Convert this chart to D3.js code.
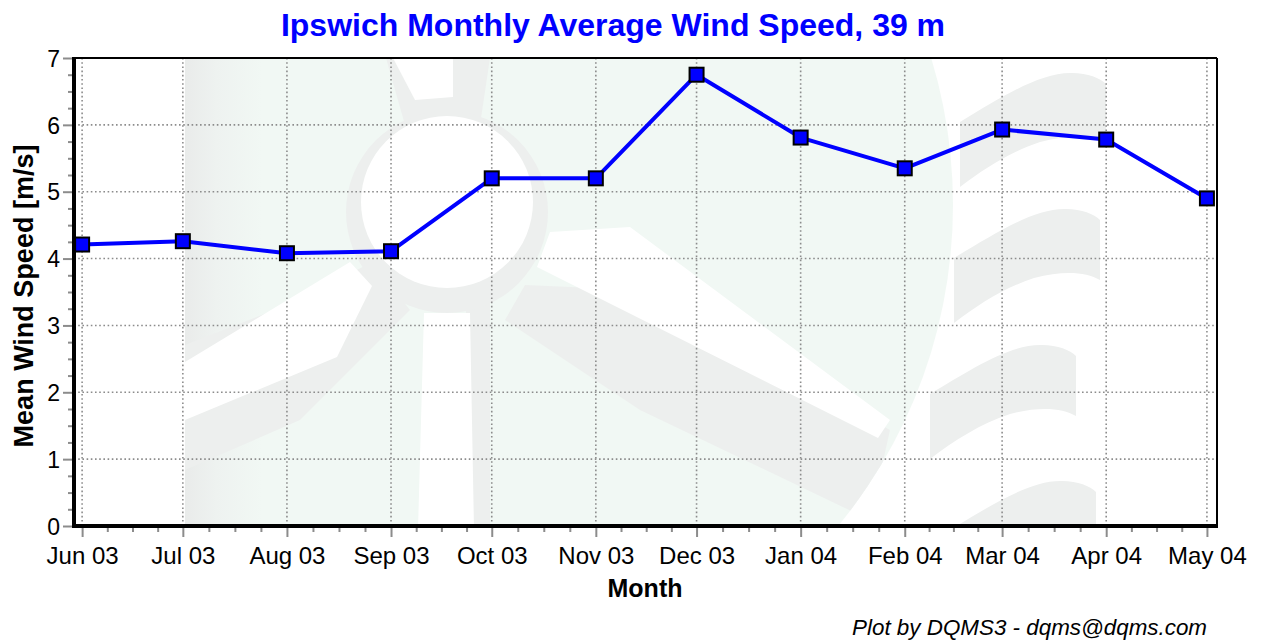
<!DOCTYPE html>
<html>
<head>
<meta charset="utf-8">
<script src="https://cdn.jsdelivr.net/npm/d3@7"></script>
<style>
  body { margin: 0; background: #fff; }
  svg { display: block; font-family: "Liberation Sans", Arial, sans-serif; }
</style>
</head>
<body>
<svg id="chart"></svg>
<script>
// monthly mean wind speed at 39 m, Jun 2003 .. May 2004
const months = ["2003-06", "2003-07", "2003-08", "2003-09", "2003-10", "2003-11",
                "2003-12", "2004-01", "2004-02", "2004-03", "2004-04", "2004-05"];
const windSpeed = [4.21, 4.26, 4.08, 4.11, 5.20, 5.20, 6.75, 5.81, 5.35, 5.93, 5.78, 4.90];
const yTicks = [0, 1, 2, 3, 4, 5, 6, 7];

const width = 1265, height = 640;
const margin = { top: 58, right: 48, bottom: 114, left: 74 };

const parseMonth = d3.timeParse("%Y-%m");
const data = months.map((m, i) => ({ date: parseMonth(m), value: windSpeed[i] }));

const svg = d3.select("#chart")
    .attr("width", width)
    .attr("height", height);

const x = d3.scaleTime()
    .domain([new Date(2003, 4, 29, 14), new Date(2004, 4, 4, 0)])
    .range([margin.left, width - margin.right]);

const y = d3.scaleLinear()
    .domain([0, 7])
    .range([height - margin.bottom, margin.top]);

const x0 = margin.left, x1 = width - margin.right;
const y0 = height - margin.bottom, y1 = margin.top;

// ---- faint logo watermark behind the plot ----
const defs = svg.append("defs");
defs.append("clipPath").attr("id", "plotclip")
    .append("rect").attr("x", x0).attr("y", y1).attr("width", x1 - x0).attr("height", y0 - y1);
defs.append("clipPath").attr("id", "logoclip")
    .append("circle").attr("cx", 447).attr("cy", 205).attr("r", 506);

const grad = defs.append("linearGradient").attr("id", "mint")
    .attr("gradientUnits", "userSpaceOnUse")
    .attr("x1", 185).attr("x2", 960).attr("y1", 0).attr("y2", 0);
grad.append("stop").attr("offset", "0").attr("stop-color", "#e9ebea");
grad.append("stop").attr("offset", "0.04").attr("stop-color", "#eef2f0");
grad.append("stop").attr("offset", "0.1").attr("stop-color", "#f1f8f4");
grad.append("stop").attr("offset", "1").attr("stop-color", "#f1f8f4");

const wm = svg.append("g").attr("clip-path", "url(#plotclip)");
const logo = wm.append("g").attr("clip-path", "url(#logoclip)");
const grey = "#edefee";

logo.append("rect")
    .attr("x", 185).attr("y", 0).attr("width", 780).attr("height", 640)
    .attr("fill", "url(#mint)");

// blade shadows
logo.append("path").attr("fill", grey)
    .attr("d", "M372,262 L300,300 L185,345 L185,470 L300,420 L410,310 Z");
logo.append("path").attr("fill", grey)
    .attr("d", "M525,285 L640,290 L890,430 L870,520 L640,410 L505,320 Z");
logo.append("path").attr("fill", grey)
    .attr("d", "M386,58 L490,58 L480,125 L405,125 Z");
logo.append("rect").attr("fill", grey)
    .attr("x", 466).attr("y", 300).attr("width", 24).attr("height", 230);

// hub
logo.append("circle").attr("cx", 447).attr("cy", 212).attr("r", 101).attr("fill", grey);
logo.append("circle").attr("cx", 447).attr("cy", 202).attr("r", 86).attr("fill", "#fff");

// white blades and tower
wm.append("path").attr("fill", "#fff")
    .attr("d", "M393,58 L453,58 L453,97 L415,100 Z");
wm.append("path").attr("fill", "#fff")
    .attr("d", "M350,262 L372,286 L337,357 L185,420 L185,362 Z");
wm.append("path").attr("fill", "#fff")
    .attr("d", "M537,267 L550,232 L630,227 L890,420 L878,438 Z");
wm.append("path").attr("fill", "#fff")
    .attr("d", "M424,313 L470,313 L474,530 L418,530 Z");

// wind swooshes on the right
[{ dx: 0, dy: 0 }, { dx: -6, dy: 136 }, { dx: -30, dy: 272 }, { dx: -10, dy: 408 }].forEach(s => {
    wm.append("path").attr("fill", grey)
        .attr("transform", `translate(${s.dx},${s.dy})`)
        .attr("d", "M960,122 C1000,98 1040,72 1072,73 C1088,73 1100,78 1106,84 L1106,144 " +
                   "C1092,136 1070,134 1040,142 C1010,152 985,168 960,187 Z");
});

// ---- grid ----
const gridStyle = g => g.attr("stroke", "#8c8c8c").attr("stroke-width", 1.6)
    .attr("stroke-dasharray", "1.6,2.6");

svg.append("g").call(gridStyle)
    .selectAll("line").data(yTicks.filter(t => t > 0 && t < 7)).join("line")
    .attr("x1", x0).attr("x2", x1)
    .attr("y1", d => y(d)).attr("y2", d => y(d));

svg.append("g").call(gridStyle)
    .selectAll("line").data(data).join("line")
    .attr("x1", d => x(d.date)).attr("x2", d => x(d.date))
    .attr("y1", y1).attr("y2", y0);

// ---- axes ----
const minorY = d3.range(0, 7.01, 0.25).filter(v => v % 1 !== 0);
const minorX = [];
for (let i = 0; i < data.length - 1; i++) {
    const a = +data[i].date, b = +data[i + 1].date;
    for (let k = 1; k < 4; k++) minorX.push(new Date(a + (b - a) * k / 4));
}

const yAxis = svg.append("g")
    .attr("transform", `translate(${x0},0)`)
    .call(d3.axisLeft(y).tickValues(yTicks).tickFormat(d3.format("d")).tickSize(11).tickPadding(3));
const yMinor = svg.append("g")
    .attr("transform", `translate(${x0},0)`)
    .call(d3.axisLeft(y).tickValues(minorY).tickFormat("").tickSize(6));

const xAxis = svg.append("g")
    .attr("transform", `translate(0,${y0})`)
    .call(d3.axisBottom(x).tickValues(data.map(d => d.date))
        .tickFormat(d3.timeFormat("%b %y")).tickSize(11).tickPadding(10));
const xMinor = svg.append("g")
    .attr("transform", `translate(0,${y0})`)
    .call(d3.axisBottom(x).tickValues(minorX).tickFormat("").tickSize(6));

[yAxis, yMinor, xAxis, xMinor].forEach(g => {
    g.select(".domain").remove();
    g.selectAll(".tick line").attr("stroke", "#8c8c8c").attr("stroke-width", 2);
    g.selectAll(".tick text").attr("fill", "#000").attr("font-size", 24)
        .attr("font-family", "'Liberation Sans', Arial, sans-serif");
});
yAxis.selectAll(".tick text").attr("font-size", 23).attr("dy", "0.36em");

// frame: thick left/bottom, thin top/right
svg.append("line").attr("x1", x0).attr("x2", x1).attr("y1", y1).attr("y2", y1)
    .attr("stroke", "#000").attr("stroke-width", 2);
svg.append("line").attr("x1", x1).attr("x2", x1).attr("y1", y1).attr("y2", y0)
    .attr("stroke", "#000").attr("stroke-width", 2);
svg.append("line").attr("x1", x0).attr("x2", x0).attr("y1", y1 - 1).attr("y2", y0 + 2)
    .attr("stroke", "#000").attr("stroke-width", 4);
svg.append("line").attr("x1", x0 - 2).attr("x2", x1 + 1).attr("y1", y0).attr("y2", y0)
    .attr("stroke", "#000").attr("stroke-width", 4);

// ---- series ----
const line = d3.line().x(d => x(d.date)).y(d => y(d.value));

svg.append("path")
    .datum(data)
    .attr("fill", "none")
    .attr("stroke", "#0000ff")
    .attr("stroke-width", 4)
    .attr("stroke-linejoin", "round")
    .attr("d", line);

const ms = 14;
svg.append("g")
    .selectAll("rect")
    .data(data)
    .join("rect")
    .attr("x", d => x(d.date) - ms / 2)
    .attr("y", d => y(d.value) - ms / 2)
    .attr("width", ms)
    .attr("height", ms)
    .attr("fill", "#0000ff")
    .attr("stroke", "#000")
    .attr("stroke-width", 2);

// ---- titles ----
svg.append("text")
    .attr("x", 613).attr("y", 36)
    .attr("text-anchor", "middle")
    .attr("font-size", 32).attr("font-weight", "bold")
    .attr("fill", "#0000ff")
    .text("Ipswich Monthly Average Wind Speed, 39 m");

svg.append("text")
    .attr("transform", `translate(33,296) rotate(-90)`)
    .attr("text-anchor", "middle")
    .attr("font-size", 27).attr("font-weight", "bold")
    .text("Mean Wind Speed [m/s]");

svg.append("text")
    .attr("x", 645).attr("y", 597)
    .attr("text-anchor", "middle")
    .attr("font-size", 25).attr("font-weight", "bold")
    .text("Month");

svg.append("text")
    .attr("x", 1207).attr("y", 635)
    .attr("text-anchor", "end")
    .attr("font-size", 22.4).attr("font-style", "italic")
    .text("Plot by DQMS3 - dqms@dqms.com");
</script>
</body>
</html>
